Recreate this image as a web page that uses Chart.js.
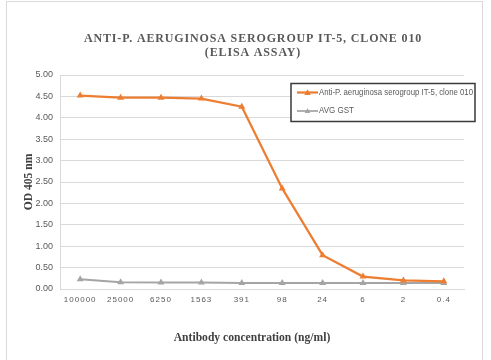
<!DOCTYPE html>
<html>
<head>
<meta charset="utf-8">
<script src="https://cdn.jsdelivr.net/npm/chart.js@4"></script>
<style>
  html, body { margin: 0; padding: 0; background: #fff; }
  #wrap { position: relative; width: 491px; height: 360px; overflow: hidden; }
  #frame { position: absolute; left: 6px; top: 1px; width: 477px; height: 400px;
           border: 1px solid #d9d9d9; box-sizing: border-box; }
  canvas { position: absolute; left: 0; top: 0; }
</style>
</head>
<body>
<div id="wrap">
  <div id="frame"></div>
  <canvas id="c" width="491" height="360"></canvas>
</div>
<script>
const titleLines = ['ANTI-P. AERUGINOSA SEROGROUP IT-5, CLONE 010', '(ELISA ASSAY)'];
const xAxisTitle = 'Antibody concentration (ng/ml)';
const yAxisTitle = 'OD 405 nm';
const categories = ['100000', '25000', '6250', '1563', '391', '98', '24', '6', '2', '0.4'];
const seriesNames = ['Anti-P. aeruginosa serogroup IT-5, clone 010', 'AVG GST'];
const antiValues = [4.52, 4.47, 4.47, 4.45, 4.26, 2.35, 0.79, 0.29, 0.20, 0.18];
const gstValues = [0.23, 0.16, 0.15, 0.15, 0.14, 0.14, 0.14, 0.14, 0.14, 0.14];
const seriesColors = ['#ED7D31', '#A5A5A5'];
const yTicks = [0, 0.5, 1, 1.5, 2, 2.5, 3, 3.5, 4, 4.5, 5];

const textGrey = '#595959';

const decor = {
  id: 'decor',
  afterLayout(chart) {
    const xs = chart.scales.x;
    if (!xs._spaced) {
      const orig = xs.drawLabels.bind(xs);
      xs.drawLabels = function (area) {
        const ctx = chart.ctx;
        ctx.save();
        ctx.letterSpacing = '1px';
        orig(area);
        ctx.restore();
      };
      xs._spaced = true;
    }
  },
  afterDraw(chart) {
    const ctx = chart.ctx;
    ctx.save();
    // Title
    ctx.fillStyle = textGrey;
    ctx.font = 'bold 12px "Liberation Serif", serif';
    ctx.letterSpacing = '0.85px';
    ctx.textAlign = 'center';
    ctx.textBaseline = 'middle';
    ctx.fillText(titleLines[0], 253, 39);
    ctx.fillText(titleLines[1], 253, 52.5);
    ctx.letterSpacing = '0px';
    // Axis titles
    ctx.fillStyle = '#404040';
    ctx.font = 'bold 11.6px "Liberation Serif", serif';
    ctx.fillText(xAxisTitle, 252, 338);
    ctx.save();
    ctx.translate(29, 182);
    ctx.rotate(-Math.PI / 2);
    ctx.fillText(yAxisTitle, 0, 0);
    ctx.restore();
    // Legend box
    const bx = 291, by = 83.5, bw = 184, bh = 38;
    ctx.fillStyle = '#fff';
    ctx.fillRect(bx, by, bw, bh);
    ctx.strokeStyle = '#3a3a3a';
    ctx.lineWidth = 1.5;
    ctx.strokeRect(bx, by, bw, bh);
    const rows = [92.5, 111];
    ctx.textAlign = 'left';
    ctx.font = '8.6px "Liberation Sans", sans-serif';
    const maxW = 154;
    rows.forEach((yy, i) => {
      ctx.strokeStyle = seriesColors[i];
      ctx.lineWidth = i === 0 ? 2.25 : 1.75;
      ctx.beginPath();
      ctx.moveTo(297, yy);
      ctx.lineTo(318, yy);
      ctx.stroke();
      ctx.fillStyle = seriesColors[i];
      const r = i === 0 ? 3.2 : 2.8;
      ctx.beginPath();
      ctx.moveTo(307.5, yy - r);
      ctx.lineTo(307.5 + r, yy + r * 0.75);
      ctx.lineTo(307.5 - r, yy + r * 0.75);
      ctx.closePath();
      ctx.fill();
      ctx.fillStyle = textGrey;
      const w = ctx.measureText(seriesNames[i]).width;
      const sx = w > maxW ? maxW / w : 0.93;
      ctx.save();
      ctx.translate(319, yy);
      ctx.scale(sx, 1);
      ctx.fillText(seriesNames[i], 0, 0);
      ctx.restore();
    });
    ctx.restore();
  }
};

new Chart(document.getElementById('c'), {
  type: 'line',
  data: {
    labels: categories,
    datasets: [
      {
        label: seriesNames[0],
        data: antiValues,
        borderColor: seriesColors[0],
        backgroundColor: seriesColors[0],
        borderWidth: 2.25,
        pointStyle: 'triangle',
        pointRadius: 4,
        pointBorderWidth: 0,
        tension: 0
      },
      {
        label: seriesNames[1],
        data: gstValues,
        borderColor: seriesColors[1],
        backgroundColor: seriesColors[1],
        borderWidth: 2,
        pointStyle: 'triangle',
        pointRadius: 4,
        pointBorderWidth: 0,
        tension: 0
      }
    ]
  },
  options: {
    responsive: false,
    animation: false,
    devicePixelRatio: 1,
    layout: { padding: { left: 0, right: 27, top: 75, bottom: 0 } },
    plugins: {
      legend: { display: false },
      title: { display: false },
      tooltip: { enabled: false }
    },
    scales: {
      x: {
        type: 'category',
        offset: true,
        grid: { display: false, drawTicks: false },
        border: { display: true, color: '#d9d9d9', width: 1 },
        ticks: {
          color: textGrey,
          font: { family: '"Liberation Sans", sans-serif', size: 8 },
          padding: 6,
          maxRotation: 0,
          autoSkip: false
        },
        afterFit(s) { s.height = 71; }
      },
      y: {
        min: 0,
        max: 5,
        afterBuildTicks(s) { s.ticks = yTicks.map(v => ({ value: v })); },
        grid: { color: '#d9d9d9', lineWidth: 1, drawTicks: false },
        border: { display: true, color: '#d9d9d9', width: 1 },
        ticks: {
          color: textGrey,
          font: { family: '"Liberation Sans", sans-serif', size: 9 },
          padding: 7,
          callback: v => Number(v).toFixed(2)
        },
        afterFit(s) { s.width = 60; }
      }
    }
  },
  plugins: [decor]
});
</script>
</body>
</html>
